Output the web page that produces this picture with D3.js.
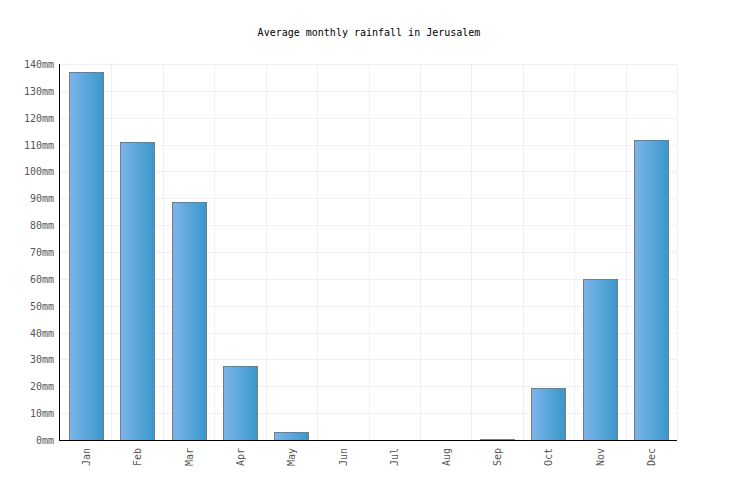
<!DOCTYPE html>
<html>
<head>
<meta charset="utf-8">
<script src="https://cdn.jsdelivr.net/npm/d3@7"></script>
<style>
  body { margin: 0; background: #fff; }
  text { font-family: "DejaVu Sans Mono", "Liberation Mono", monospace; }
</style>
</head>
<body>
<script>
// rainfall per month, mm
const months = ['Jan', 'Feb', 'Mar', 'Apr', 'May', 'Jun', 'Jul', 'Aug', 'Sep', 'Oct', 'Nov', 'Dec'];
const rainfall = [137, 110.8, 88.5, 27.4, 3, 0, 0, 0, 0.5, 19.4, 59.8, 111.6];
const yTicks = [0, 10, 20, 30, 40, 50, 60, 70, 80, 90, 100, 110, 120, 130, 140];
const title = 'Average monthly rainfall in Jerusalem';

const width = 736;
const height = 500;
const margin = { top: 64, right: 59, bottom: 60, left: 60 };

const svg = d3.select('body')
  .append('svg')
  .attr('width', width)
  .attr('height', height);

// bar fill: light blue on the left, darker on the right
const grad = svg.append('defs').append('linearGradient')
  .attr('id', 'barGrad')
  .attr('x1', '0%').attr('x2', '100%')
  .attr('y1', '0%').attr('y2', '0%');
grad.append('stop').attr('offset', '0%').attr('stop-color', '#7cb5ea');
grad.append('stop').attr('offset', '100%').attr('stop-color', '#3997cb');

const x = d3.scaleBand()
  .domain(months)
  .range([margin.left, width - margin.right])
  .paddingInner(0)
  .paddingOuter(0);

const y = d3.scaleLinear()
  .domain([0, 140])
  .range([height - margin.bottom, margin.top]);

svg.append('text')
  .attr('x', width / 2 + 1)
  .attr('y', 36)
  .attr('text-anchor', 'middle')
  .attr('font-size', 10)
  .attr('fill', '#000')
  .text(title);

// grid
const grid = svg.append('g').attr('stroke', '#f0f0f0').attr('stroke-width', 1);
grid.selectAll('line.h')
  .data(yTicks)
  .join('line')
  .attr('class', 'h')
  .attr('x1', margin.left)
  .attr('x2', width - margin.right)
  .attr('y1', (d) => Math.round(y(d)) + 0.5)
  .attr('y2', (d) => Math.round(y(d)) + 0.5);
grid.selectAll('line.v')
  .data(months.map((m) => x(m) + x.bandwidth()))
  .join('line')
  .attr('class', 'v')
  .attr('x1', (d) => Math.round(d) + 0.5)
  .attr('x2', (d) => Math.round(d) + 0.5)
  .attr('y1', margin.top)
  .attr('y2', height - margin.bottom);

// bars
const barW = x.bandwidth() * 0.66;
svg.append('g')
  .selectAll('rect')
  .data(rainfall)
  .join('rect')
  .attr('x', (d, i) => Math.round(x(months[i]) + (x.bandwidth() - barW) / 2) + 0.5)
  .attr('y', (d) => Math.round(y(d)) + 0.5)
  .attr('width', Math.round(barW))
  .attr('height', (d) => Math.max(0, Math.round(y(0)) - Math.round(y(d))))
  .attr('fill', 'url(#barGrad)')
  .attr('stroke', '#7a7a7a')
  .attr('stroke-width', 1)
  .attr('visibility', (d) => (d > 0 ? 'visible' : 'hidden'));

// y labels
svg.append('g')
  .selectAll('text')
  .data(yTicks)
  .join('text')
  .attr('x', margin.left - 6)
  .attr('y', (d) => y(d) + 4)
  .attr('text-anchor', 'end')
  .attr('font-size', 10)
  .attr('fill', '#555')
  .text((d) => d + 'mm');

// x labels, rotated
svg.append('g')
  .selectAll('text')
  .data(months)
  .join('text')
  .attr('transform', (d) => 'translate(' + (x(d) + x.bandwidth() / 2 + 4) + ',' + (y(0) + 8) + ') rotate(-90)')
  .attr('text-anchor', 'end')
  .attr('font-size', 10)
  .attr('fill', '#555')
  .text((d) => d);

// axis lines
const y0 = Math.round(y(0)) + 0.5;
svg.append('line')
  .attr('x1', margin.left - 0.5).attr('x2', margin.left - 0.5)
  .attr('y1', margin.top).attr('y2', y0)
  .attr('stroke', '#000');
svg.append('line')
  .attr('x1', margin.left - 1).attr('x2', width - margin.right)
  .attr('y1', y0).attr('y2', y0)
  .attr('stroke', '#000');
</script>
</body>
</html>
